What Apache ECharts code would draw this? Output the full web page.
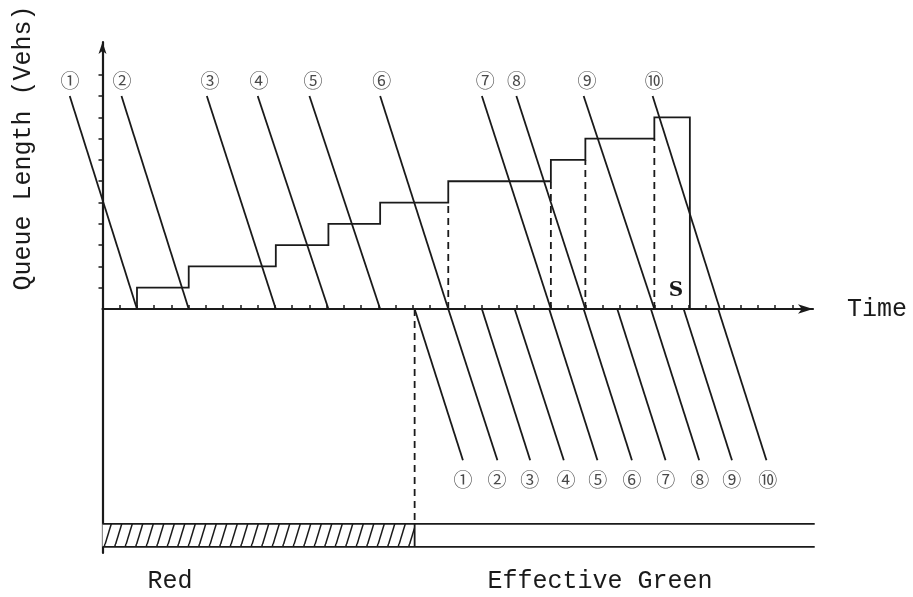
<!DOCTYPE html>
<html>
<head>
<meta charset="utf-8">
<script src="https://cdn.jsdelivr.net/npm/echarts@6/dist/echarts.min.js"></script>
<style>html,body{margin:0;padding:0;background:#fff;}#c{width:913px;height:597px;}</style>
</head>
<body>
<div id="c"></div>
<script>
// ---- data (time units = x-axis ticks, queue units = vehicles) ----
const vehLabels = ['①','②','③','④','⑤','⑥','⑦','⑧','⑨','⑩'];
const arrTopX = [-1.9, 1.1, 6.05, 9.0, 12.0, 16.1, 22.0, 24.0, 27.9, 31.9];
const arrTopY = 10;
const arrStopX = [2.0, 5.0, 10.05, 13.1, 16.1, 20.05, 26.0, 28.0, 32.0, 35.8];
const topLabelX = [-1.88, 1.13, 6.23, 9.07, 12.2, 16.2, 22.2, 24.0, 28.1, 32.0];
const topLabelY = 10.7;
const queueJoinX = [2.0, 5.0, 10.05, 13.1, 16.1, 20.05, 26.0, 28.0, 32.0];
const queueLevels = [1, 2, 3, 4, 5, 6, 7, 8, 9];
const queueClearX = 34.06;
const dashedJoinIdx = [5, 6, 7, 8];
const depStartX = [18.1, 20.05, 22.0, 23.9, 25.9, 27.9, 29.85, 31.8, 33.7, 35.7];
const depEndX = [20.9, 22.9, 24.8, 26.75, 28.7, 30.7, 32.65, 34.6, 36.5, 38.5];
const depEndY = -7.1;
const bottomLabelX = [20.9, 22.87, 24.78, 26.87, 28.72, 30.7, 32.66, 34.64, 36.49, 38.58];
const bottomLabelY = -8.03;
const redEnd = 18.1;
const barTopY = -10.09;
const barBottomY = -11.17;
const barEndX = 41.3;
const xTicks = []; for (let i = 1; i <= 40; i++) xTicks.push(i);
const yTicks = []; for (let i = 1; i <= 11; i++) yTicks.push(i);

const INK = '#1a1a1a';

// hatch pattern
function hatch() {
  const w = 10.5, h = 34.5;
  const cv = document.createElement('canvas');
  cv.width = w * 2; cv.height = h;
  const ctx = cv.getContext('2d');
  ctx.fillStyle = '#fff'; ctx.fillRect(0, 0, cv.width, h);
  ctx.strokeStyle = INK; ctx.lineWidth = 1.5;
  for (let i = -2; i <= 4; i++) {
    ctx.beginPath();
    ctx.moveTo(i * w, h);
    ctx.lineTo(i * w + w, 0);
    ctx.stroke();
  }
  return cv;
}

// build segments
const solidSegs = [];
arrTopX.forEach((x, i) => solidSegs.push({coords: [[x, arrTopY], [arrStopX[i], 0]]}));
depStartX.forEach((x, i) => solidSegs.push({coords: [[x, 0], [depEndX[i], depEndY]]}));
// queue polyline
const q = [];
queueJoinX.forEach((x, i) => {
  const prev = i === 0 ? 0 : queueLevels[i - 1];
  q.push([x, prev]); q.push([x, queueLevels[i]]);
});
q.push([queueClearX, queueLevels[queueLevels.length - 1]]);
q.push([queueClearX, 0]);
solidSegs.push({coords: q});
// signal bar
solidSegs.push({coords: [[0, barTopY], [barEndX, barTopY]]});
solidSegs.push({coords: [[0, barBottomY], [barEndX, barBottomY]]});
solidSegs.push({coords: [[redEnd, barTopY], [redEnd, barBottomY]]});

const dashSegs = dashedJoinIdx.map(i => ({coords: [[queueJoinX[i], 0], [queueJoinX[i], queueLevels[i - 1]]]}));
const redDash = [{coords: [[redEnd, 0], [redEnd, barTopY]]}];

const labelFont = '"Noto Sans CJK JP", "DejaVu Sans", sans-serif';
const topLabels = vehLabels.map((t, i) => ({value: [topLabelX[i], topLabelY], label: {formatter: t}}));
const botLabels = vehLabels.map((t, i) => ({value: [bottomLabelX[i], bottomLabelY], label: {formatter: t}}));

const chart = echarts.init(document.getElementById('c'), null, {renderer: 'canvas'});
chart.setOption({
  backgroundColor: '#fff',
  animation: false,
  grid: {left: 102.5, right: 100, top: 42, bottom: 44},
  xAxis: {
    type: 'value', min: 0, max: 41.2,
    name: 'Time', nameLocation: 'end', nameGap: 34,
    nameTextStyle: {fontFamily: 'Liberation Mono', fontSize: 25, color: INK, verticalAlign: 'middle'},
    axisLine: {onZero: true, symbol: ['none', 'arrow'], symbolSize: [7, 15], lineStyle: {color: INK, width: 2.2}},
    axisTick: {show: true, inside: true, length: 4, customValues: xTicks, lineStyle: {color: INK, width: 1.5}},
    axisLabel: {show: false}, splitLine: {show: false}
  },
  yAxis: {
    type: 'value', min: -11.46, max: 12.54,
    axisLine: {onZero: true, symbol: ['none', 'arrow'], symbolSize: [6, 12], lineStyle: {color: INK, width: 2.2}},
    axisTick: {show: true, inside: false, length: 4, customValues: yTicks, lineStyle: {color: INK, width: 1.5}},
    axisLabel: {show: false}, splitLine: {show: false}
  },
  graphic: [
    {type: 'text', x: 23, y: 148, rotation: Math.PI / 2,
     style: {text: 'Queue Length (Vehs)', font: '25px "Liberation Mono"', fill: INK, align: 'center', verticalAlign: 'middle'}},
    {type: 'text', x: 170, y: 581,
     style: {text: 'Red', font: '25px "Liberation Mono"', fill: INK, align: 'center', verticalAlign: 'middle'}},
    {type: 'text', x: 600, y: 581,
     style: {text: 'Effective Green', font: '25px "Liberation Mono"', fill: INK, align: 'center', verticalAlign: 'middle'}},
    {type: 'text', x: 676, y: 291,
     style: {text: 'S', font: 'bold 20px "DejaVu Serif"', fill: INK, align: 'center', verticalAlign: 'middle'}}
  ],
  series: [
    {
      type: 'line', data: [], silent: true,
      markArea: {silent: true, itemStyle: {color: {image: hatch(), repeat: 'repeat'}, borderWidth: 0},
        data: [[{coord: [0, barTopY]}, {coord: [redEnd, barBottomY]}]]}
    },
    {type: 'lines', coordinateSystem: 'cartesian2d', polyline: true, clip: false, silent: true,
     lineStyle: {color: INK, width: 1.8, opacity: 1}, data: solidSegs},
    {type: 'lines', coordinateSystem: 'cartesian2d', polyline: true, clip: false, silent: true,
     symbol: ['none', 'arrow'], symbolSize: 6,
     lineStyle: {color: INK, width: 1.8, type: [7, 5], opacity: 1}, data: dashSegs},
    {type: 'lines', coordinateSystem: 'cartesian2d', polyline: true, clip: false, silent: true,
     lineStyle: {color: INK, width: 1.8, type: [7, 5], opacity: 1}, data: redDash},
    {type: 'scatter', clip: false, symbolSize: 0, silent: true, data: topLabels,
     label: {show: true, position: 'inside', fontFamily: labelFont, fontSize: 19, color: INK}},
    {type: 'scatter', clip: false, symbolSize: 0, silent: true, data: botLabels,
     label: {show: true, position: 'inside', fontFamily: labelFont, fontSize: 19, color: INK}}
  ]
});
</script>
</body>
</html>
